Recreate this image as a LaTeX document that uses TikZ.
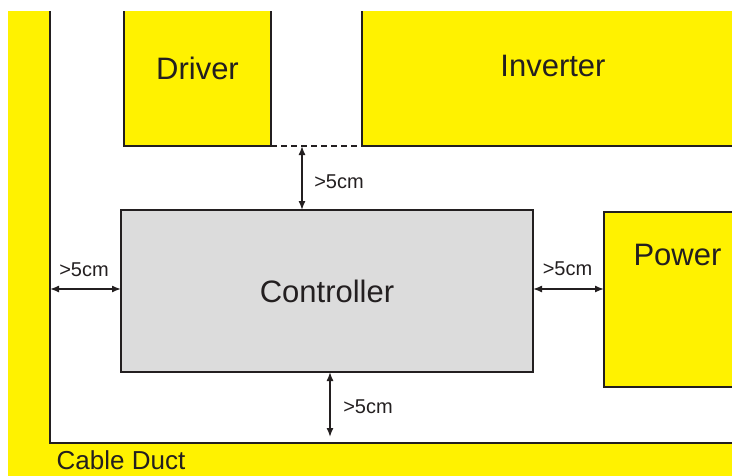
\documentclass[tikz,border=0pt]{standalone}
\usepackage{fontspec}
\setmainfont{Liberation Sans}
\usetikzlibrary{arrows.meta, positioning, calc}
\definecolor{ductyellow}{HTML}{FFF200}
\definecolor{boxgray}{HTML}{DCDCDC}
\definecolor{edge}{HTML}{231F20}

\begin{document}
\begin{tikzpicture}[x=1pt, y=-1pt,
unit/.style={draw=edge, line width=1.6pt, fill=ductyellow, inner sep=0pt, outer sep=0pt, text=edge, font=\fontsize{31}{36}\selectfont},
ctrl/.style={unit, fill=boxgray},
gap/.style={draw=edge, line width=1.4pt, {Latex[length=9pt,width=7pt]}-{Latex[length=9pt,width=7pt]}},
dist/.style={font=\fontsize{20}{24}\selectfont, text=edge}
]
\useasboundingbox (0,0) rectangle (732,475);

\begin{scope}
\clip (8,11) rectangle (732,475);

% Kabelkanal
\fill[ductyellow] (8,0) rectangle (50,480);
\fill[ductyellow] (8,443) rectangle (740,480);
\draw[edge, line width=1.6pt] (50,0) -- (50,443) -- (740,443);

% Baugruppen
\node[unit, minimum width=147pt, minimum height=156pt] (driver) at (197.5,68) {Driver};
\node[unit, minimum width=382pt, minimum height=161pt] (inverter) at (553,65.5) {Inverter};
\node[ctrl, minimum width=412pt, minimum height=162pt] (controller) at (327,291) {Controller};
\node[unit, minimum width=147pt, minimum height=175pt,
  label={[font=\fontsize{31}{36}\selectfont, text=edge, yshift=45pt]center:Power}] (power) at (677.5,299.5) {};

\draw[edge, line width=1.2pt, dash pattern=on 6pt off 4pt] (driver.south east) -- (inverter.south west);

% Abstaende
\coordinate (gaptop) at (302,146);
\coordinate (ductleft) at (50,289);
\coordinate (ductbottom) at (330,437);

\draw[gap] (gaptop) -- (gaptop |- controller.north);
\draw[gap] (ductleft) -- (ductleft -| controller.west);
\draw[gap] (ductleft -| controller.east) -- (ductleft -| power.west);
\draw[gap] (ductbottom |- controller.south) -- (ductbottom);

\node[dist] (gapup) at (339,181.5) {>5cm};
\node[dist] (gapleft) at (84,270) {>5cm};
\node[dist] (gapright) at (567.5,269) {>5cm};
\node[dist] (gapdown) at (368,407) {>5cm};

\node[font=\fontsize{26}{30}\selectfont, text=edge] (duct) at (121,460) {Cable Duct};
\end{scope}

\end{tikzpicture}
\end{document}
